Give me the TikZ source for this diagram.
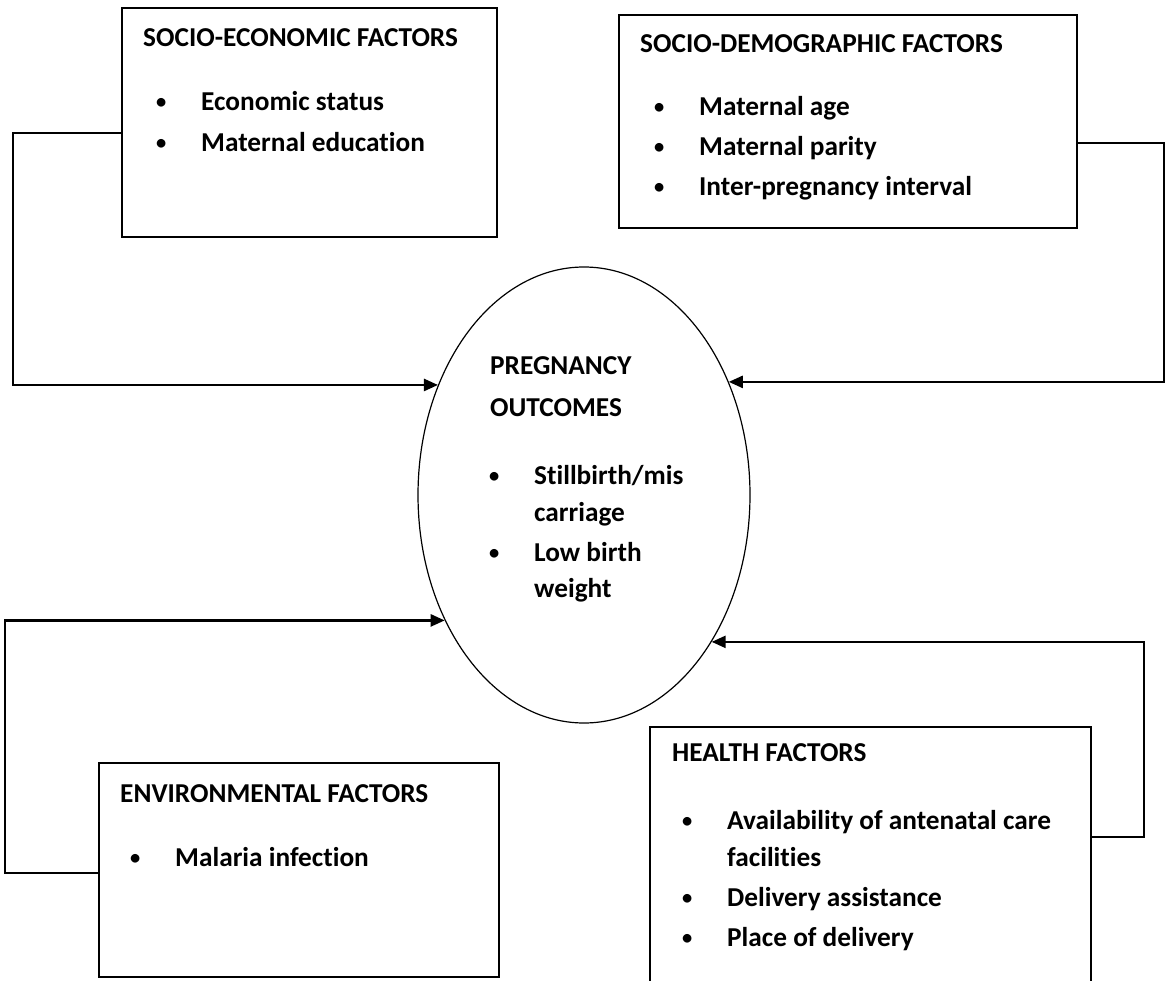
\documentclass[tikz,border=0pt]{standalone}
\usepackage{fontspec}
\setmainfont{Carlito}[Ligatures=NoCommon]
\usetikzlibrary{shapes.geometric,arrows.meta}

\tikzset{
  factor/.style={draw,line width=1.6pt,inner sep=0pt},
  outcome/.style={draw,ellipse,line width=1.2pt,inner sep=0pt},
  head/.style={anchor=base west,inner sep=0pt,font=\bfseries\fontsize{27.3}{31}\selectfont},
  item/.style={head},
  link/.style={line width=2.4pt,-{Triangle[length=14pt,width=12pt]}},
}
\newcommand{\itm}[1]{\makebox[45pt][l]{\raisebox{2pt}{\scalebox{0.75}{\textbullet}}}#1}

\begin{document}
\begin{tikzpicture}[x=1pt,y=-1pt]
  \useasboundingbox (0,0) rectangle (1166,981);
  \clip (0,0) rectangle (1166,981);

  % boxes
  \node[factor,minimum width=375,minimum height=229] (se) at (309.5,122.5) {};
  \node[factor,minimum width=458,minimum height=213] (sd) at (848,121.5) {};
  \node[outcome,minimum width=332,minimum height=456] (po) at (584,495) {};
  \node[factor,minimum width=400,minimum height=214] (env) at (299,870) {};
  \node[factor,minimum width=441,minimum height=283] (hf) at (870.5,868.5) {};

  % socio-economic
  \node[head] (se-t) at (143,47) {SOCIO-ECONOMIC FACTORS};
  \node[item] (se-1) at (156,111) {\itm{Economic status}};
  \node[item] (se-2) at (156,152) {\itm{Maternal education}};

  % socio-demographic
  \node[head] (sd-t) at (640,53) {SOCIO-DEMOGRAPHIC FACTORS};
  \node[item] (sd-1) at (654,116) {\itm{Maternal age}};
  \node[item] (sd-2) at (654,156) {\itm{Maternal parity}};
  \node[item] (sd-3) at (654,196) {\itm{Inter-pregnancy interval}};

  % outcomes
  \node[head] (po-t1) at (490,374) {PREGNANCY};
  \node[head] (po-t2) at (490,416) {OUTCOMES};
  \node[item] (po-1) at (489,484) {\itm{Stillbirth/mis}};
  \node[item] (po-1b) at (534,521) {carriage};
  \node[item] (po-2) at (489,561) {\itm{Low birth}};
  \node[item] (po-2b) at (534,597) {weight};

  % environmental
  \node[head] (env-t) at (120,802) {ENVIRONMENTAL FACTORS};
  \node[item] (env-1) at (130,866) {\itm{Malaria infection}};

  % health
  \node[head] (hf-t) at (672,761) {HEALTH FACTORS};
  \node[item] (hf-1) at (682,829) {\itm{Availability of antenatal care}};
  \node[item] (hf-1b) at (727,866) {facilities};
  \node[item] (hf-2) at (682,906) {\itm{Delivery assistance}};
  \node[item] (hf-3) at (682,946) {\itm{Place of delivery}};

  % arrows into the ellipse
  \draw[link] ([yshift=-10.5pt]se.west) -- ++(-108,0) |- (po.143.2);
  \draw[link] ([yshift=-21.5pt]sd.east) -- ++(86,0) |- (po.38.7);
  \draw[link] ([yshift=-3pt]env.west) -- ++(-93,0) |- (po.222.7);
  \draw[link] ([yshift=31.5pt]hf.east) -- ++(52,0) |- (po.311.8);
\end{tikzpicture}
\end{document}
